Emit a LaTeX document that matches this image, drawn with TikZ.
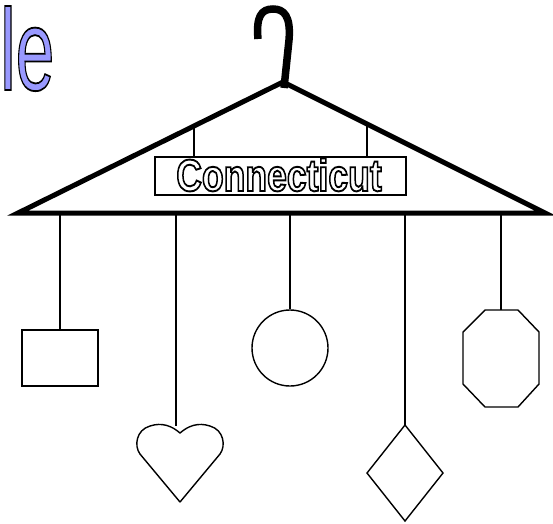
\documentclass[tikz,border=0pt]{standalone}
\usepackage{fontspec}
\setmainfont{Liberation Sans}
\usetikzlibrary{shapes.geometric}
\definecolor{lav}{RGB}{153,153,255}
\newcommand{\outlined}[3]{{\color{#1}\special{pdf:literal direct 0 G 2 Tr #2 w}#3\special{pdf:literal direct 0 Tr}}}
\tikzset{
  thin line/.style={line width=1.4pt, line join=miter},
  hanger line/.style={line width=5pt, line join=miter, miter limit=20},
  string/.style={line width=1.2pt},
}
\begin{document}
\begin{tikzpicture}[x=1pt,y=-1pt]
\useasboundingbox (0,0) rectangle (553,523);
% title letters
\node[anchor=base west, inner sep=0] (title) at (0,90)
  {\fontsize{116}{116}\selectfont\scalebox{0.6}[1]{\outlined{lav}{1.8}{le}}};
% hanger hook
\draw[line width=7.5pt, line cap=butt] (284,88) -- (289,40)
  .. controls (291,16) and (284,9) .. (273,9)
  .. controls (261,9) and (256,17) .. (258,39);
% hanger triangle
\coordinate (apex) at (283,82);
\coordinate (rc) at (545,213);
\coordinate (lc) at (18,213);
\draw[hanger line] (apex) -- (rc) -- (lc) -- cycle;
% sign
\node[draw, thin line, minimum width=251pt, minimum height=38pt, inner sep=0] (sign) at (280.5,176) {};
\node[anchor=base, inner sep=0] (signtext) at (279,191)
  {\fontsize{45}{45}\selectfont\bfseries\scalebox{0.79}[1]{\outlined{white}{1.9}{Connecticut}}};
\coordinate (sl) at (194,124);
\coordinate (sr) at (367,124);
\draw[string] (sl) -- (sl |- sign.north);
\draw[string] (sr) -- (sr |- sign.north);
% rectangle
\node[draw, thin line, minimum width=76pt, minimum height=56pt, inner sep=0] (rect) at (60,358) {};
\coordinate (b1) at (60,215);
\draw[string] (b1) -- (rect.north);
% heart
\coordinate (hearttop) at (176,426);
\draw[thin line, line join=round] (180,502) -- (140,454)
  .. controls (134,446) and (136,430) .. (150,426)
  .. controls (162,422) and (172,426) .. (180,433)
  .. controls (188,426) and (198,422) .. (210,426)
  .. controls (224,430) and (226,446) .. (220,454) -- cycle;
\coordinate (b2) at (176,215);
\draw[string] (b2) -- (hearttop);
% circle
\node[draw, thin line, circle, minimum size=76pt, inner sep=0] (circ) at (290,348) {};
\coordinate (b3) at (290,215);
\draw[string] (b3) -- (circ.north);
% diamond
\coordinate (dtop) at (405,425);
\draw[thin line] (dtop) -- (443,473) -- (405,521) -- (367,473) -- cycle;
\coordinate (b4) at (405,215);
\draw[string] (b4) -- (dtop);
% octagon
\coordinate (otop) at (501,310);
\draw[thin line] (485,310) -- (518,310) -- (539,332) -- (539,384) -- (518,407) -- (485,407) -- (463,384) -- (463,332) -- cycle;
\coordinate (b5) at (501,215);
\draw[string] (b5) -- (otop);
\end{tikzpicture}
\end{document}
